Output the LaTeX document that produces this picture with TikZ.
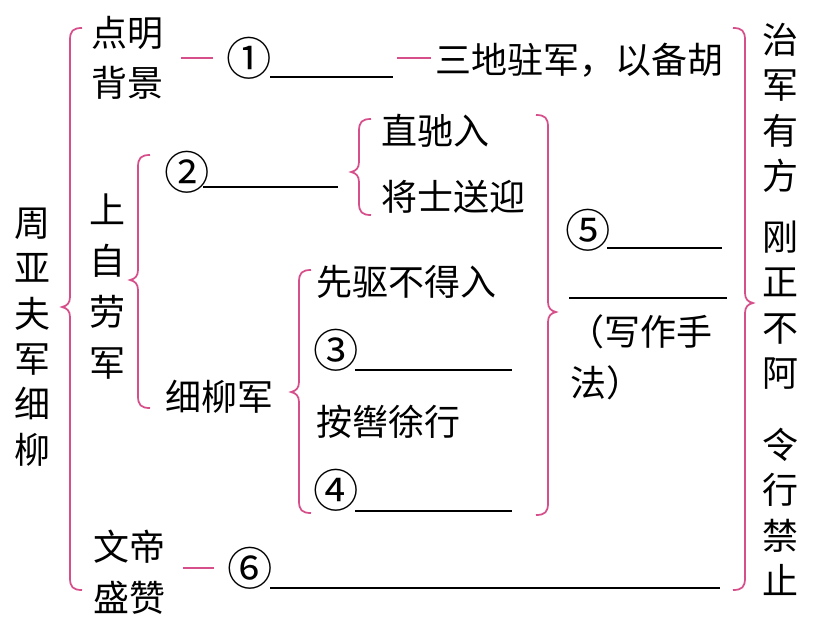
\documentclass[tikz,border=0pt]{standalone}
\usepackage{fontspec}
\setmainfont{Noto Sans CJK SC}
\definecolor{pk}{RGB}{214,78,138}
\newcommand{\pkbrace}[5]{% x, top, bottom, mid, side (+1 opens right, -1 opens left)
  \draw[pkline] (#1+12*#5,#2) .. controls (#1+3*#5,#2) and (#1,#2+3) .. (#1,#2+12)
    -- (#1,#4-10) .. controls (#1,#4-4) and (#1-3*#5,#4-1) .. (#1-8*#5,#4)
    .. controls (#1-3*#5,#4+1) and (#1,#4+4) .. (#1,#4+10)
    -- (#1,#3-12) .. controls (#1,#3-3) and (#1+3*#5,#3) .. (#1+12*#5,#3);}
\begin{document}
\begin{tikzpicture}[x=0.75pt,y=-0.75pt,
  pkline/.style={draw=pk,line width=1.3pt},
  blank/.style={draw=black,line width=1.2pt},
  txt/.style={inner sep=0pt,font=\fontsize{27}{34}\selectfont},
  num/.style={inner sep=0pt,font=\fontsize{34}{34}\selectfont},
  col/.style={txt,align=center},
]
\useasboundingbox[fill=white] (0,0) rectangle (817,635);

% braces
\pkbrace{70}{28}{590}{307}{1}
\pkbrace{138}{155}{408}{280}{1}
\pkbrace{359}{119}{215}{172}{1}
\pkbrace{299}{270}{513}{392}{1}
\pkbrace{548}{115}{515}{312}{-1}
\pkbrace{745}{28}{590}{303}{-1}

% left column
\node[col] (zy) at (32,337) {周\\亚\\夫\\军\\细\\柳};

% row 1
\node[col,font=\fontsize{27}{37.5}\selectfont] (bj) at (127,58) {点明\\背景};
\node[num] (c1) at (249,58) {①};
\node[txt,anchor=west] (s1) at (435,60) {三地驻军，以备胡};
\coordinate (d1) at (397,58);
\draw[pkline,shorten <=13.5pt,shorten >=10pt] (c1.west -| bj.east) -- (c1.west);
\draw[pkline,shorten >=3pt] (d1) -- (d1 -| s1.west);
\draw[blank] (270,77) -- (393,77);

% 上自劳军
\node[col,font=\fontsize{27}{38.25}\selectfont] (sz) at (107,287) {上\\自\\劳\\军};
\node[num] (c2) at (187,172) {②};
\draw[blank] (203,187) -- (338,187);
\node[txt,anchor=west] (z1) at (381,131) {直驰入};
\node[txt,anchor=west] (z2) at (381,197) {将士送迎};

% 细柳军
\node[txt,anchor=west] (xl) at (165,397) {细柳军};
\node[txt,anchor=west] (x1) at (316,282) {先驱不得入};
\node[num] (c3) at (336,350) {③};
\draw[blank] (355,370) -- (512,370);
\node[txt,anchor=west] (x3) at (316,422) {按辔徐行};
\node[num] (c4) at (336,490) {④};
\draw[blank] (355,511) -- (512,511);

% 5
\node[num] (c5) at (588,230) {⑤};
\draw[blank] (607,248) -- (722,248);
\draw[blank] (569,298) -- (727,298);
\node[txt,anchor=west] (xz1) at (568,332) {（写作手};
\node[txt,anchor=west] (xz2) at (570,383) {法）};

% 6
\node[col,font=\fontsize{27}{38.25}\selectfont] (wd) at (129,572) {文帝\\盛赞};
\node[num] (c6) at (250,568) {⑥};
\draw[pkline,shorten <=13.5pt,shorten >=10pt] (c6.west -| wd.east) -- (c6.west);
\draw[blank] (270,588) -- (720,588);

% right column
\node[col] (zj) at (780,108) {治\\军\\有\\方};
\node[col] (gz) at (780,305) {刚\\正\\不\\阿};
\node[col] (lx) at (780,512) {令\\行\\禁\\止};
\end{tikzpicture}
\end{document}
